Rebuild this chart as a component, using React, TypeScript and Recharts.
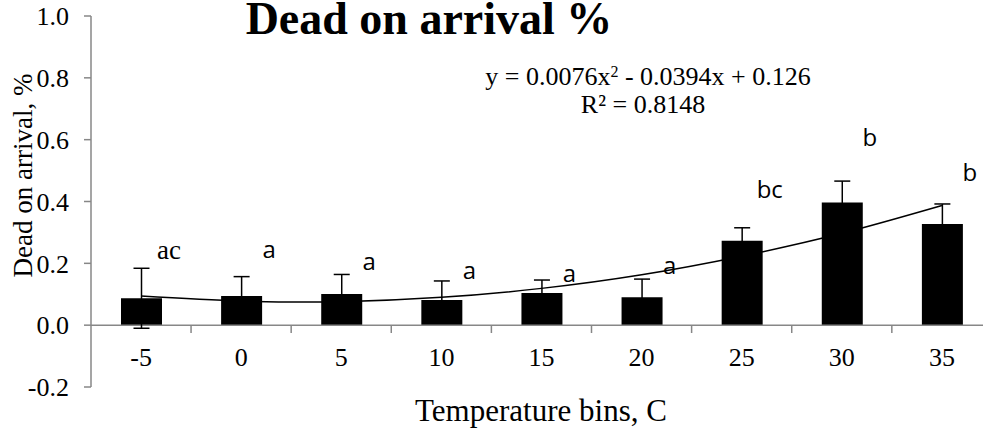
import React from "react";
import {
  Bar,
  ComposedChart,
  Customized,
  ErrorBar,
  LabelList,
  Line,
  ReferenceLine,
  XAxis,
  YAxis,
} from "recharts";

const bins = ["-5", "0", "5", "10", "15", "20", "25", "30", "35"];
const mean = [0.087, 0.094, 0.101, 0.081, 0.104, 0.09, 0.273, 0.397, 0.327];
const err = [0.097, 0.063, 0.063, 0.062, 0.042, 0.059, 0.042, 0.069, 0.065];
// polynomial trendline at each bin
const trend = [0.094, 0.078, 0.076, 0.09, 0.119, 0.163, 0.223, 0.297, 0.387];
const letters = ["ac", "a", "a", "a", "a", "a", "bc", "b", "b"];
const letterY = [0.243, 0.243, 0.204, 0.178, 0.168, 0.194, 0.437, 0.608, 0.495];
const yTicks = [-0.2, 0, 0.2, 0.4, 0.6, 0.8, 1.0];

const data = bins.map((bin, i) => ({
  bin,
  mean: mean[i],
  err: err[i],
  trend: trend[i],
  letter: letters[i],
  letterY: letterY[i],
}));

const SERIF = "'Liberation Serif', 'Times New Roman', serif";
const SANS = "'Open Sans', 'Liberation Sans', sans-serif";
const GREY = "#878787";

function BinTick(props: any) {
  const { x, y, payload } = props;
  return (
    <g>
      <text x={x} y={y - 21} textAnchor="middle" fontFamily={SERIF} fontSize={26} fill="#000">
        {payload.value}
      </text>
      <line x1={x + 50} x2={x + 50} y1={y - 62} y2={y - 54} stroke={GREY} strokeWidth={1.5} />
    </g>
  );
}

function LetterLabel(props: any) {
  const { x, y, value } = props;
  const serif = value === "ac";
  return (
    <text
      x={x + 28}
      y={y}
      dy="0.35em"
      textAnchor="middle"
      fontFamily={serif ? SERIF : SANS}
      fontSize={serif ? 27 : 24}
      fill="#000"
    >
      {value}
    </text>
  );
}

export default function App() {
  return (
    <div style={{ position: "absolute", left: 0, top: 0, background: "#fff" }}>
      <ComposedChart
        width={983}
        height={430}
        data={data}
        margin={{ top: 16, right: -9, bottom: 0, left: 0 }}
      >
        <XAxis
          dataKey="bin"
          axisLine={false}
          tickLine={false}
          tickSize={0}
          tickMargin={0}
          interval={0}
          tick={<BinTick />}
          height={43}
        />
        <YAxis
          width={91}
          domain={[-0.2, 1.0]}
          ticks={yTicks}
          interval={0}
          tickFormatter={(v: number) => v.toFixed(1)}
          axisLine={{ stroke: GREY, strokeWidth: 1.5 }}
          tickLine={{ stroke: GREY, strokeWidth: 1.5 }}
          tickSize={7}
          tickMargin={15}
          tick={{ fontFamily: SERIF, fontSize: 26, fill: "#000" }}
          label={{
            content: ({ viewBox }: any) => {
              const cx = 23;
              const cy = viewBox.y + viewBox.height / 2 - 26;
              return (
                <text
                  x={cx}
                  y={cy}
                  transform={`rotate(-90 ${cx} ${cy})`}
                  textAnchor="middle"
                  dominantBaseline="central"
                  fontFamily={SERIF}
                  fontSize={27}
                  fill="#000"
                >
                  Dead on arrival, %
                </text>
              );
            },
          }}
        />
        <ReferenceLine y={0} stroke={GREY} strokeWidth={1.5} />
        <Bar dataKey="mean" fill="#000" barSize={41} isAnimationActive={false}>
          <ErrorBar dataKey="err" width={8} stroke="#000" strokeWidth={1.5} direction="y" />
        </Bar>
        <Line
          dataKey="trend"
          type="natural"
          stroke="#000"
          strokeWidth={1.5}
          dot={false}
          isAnimationActive={false}
        />
        <Line
          dataKey="letterY"
          stroke="none"
          dot={false}
          activeDot={false}
          isAnimationActive={false}
        >
          <LabelList dataKey="letter" content={<LetterLabel />} />
        </Line>
        <Customized
          component={() => (
            <g>
              <text x={429} y={34} textAnchor="middle" fontFamily={SERIF} fontWeight="bold" fontSize={46} fill="#000">
                Dead on arrival %
              </text>
              <text x={648} y={85} textAnchor="middle" fontFamily={SERIF} fontSize={26} fill="#000">
                y = 0.0076x<tspan baselineShift="super" fontSize={16}>2</tspan> - 0.0394x + 0.126
              </text>
              <text x={643} y={113} textAnchor="middle" fontFamily={SERIF} fontSize={26} fill="#000">
                R² = 0.8148
              </text>
              <text x={541} y={421} textAnchor="middle" fontFamily={SERIF} fontSize={31} fill="#000">
                Temperature bins, C
              </text>
            </g>
          )}
        />
      </ComposedChart>
    </div>
  );
}
